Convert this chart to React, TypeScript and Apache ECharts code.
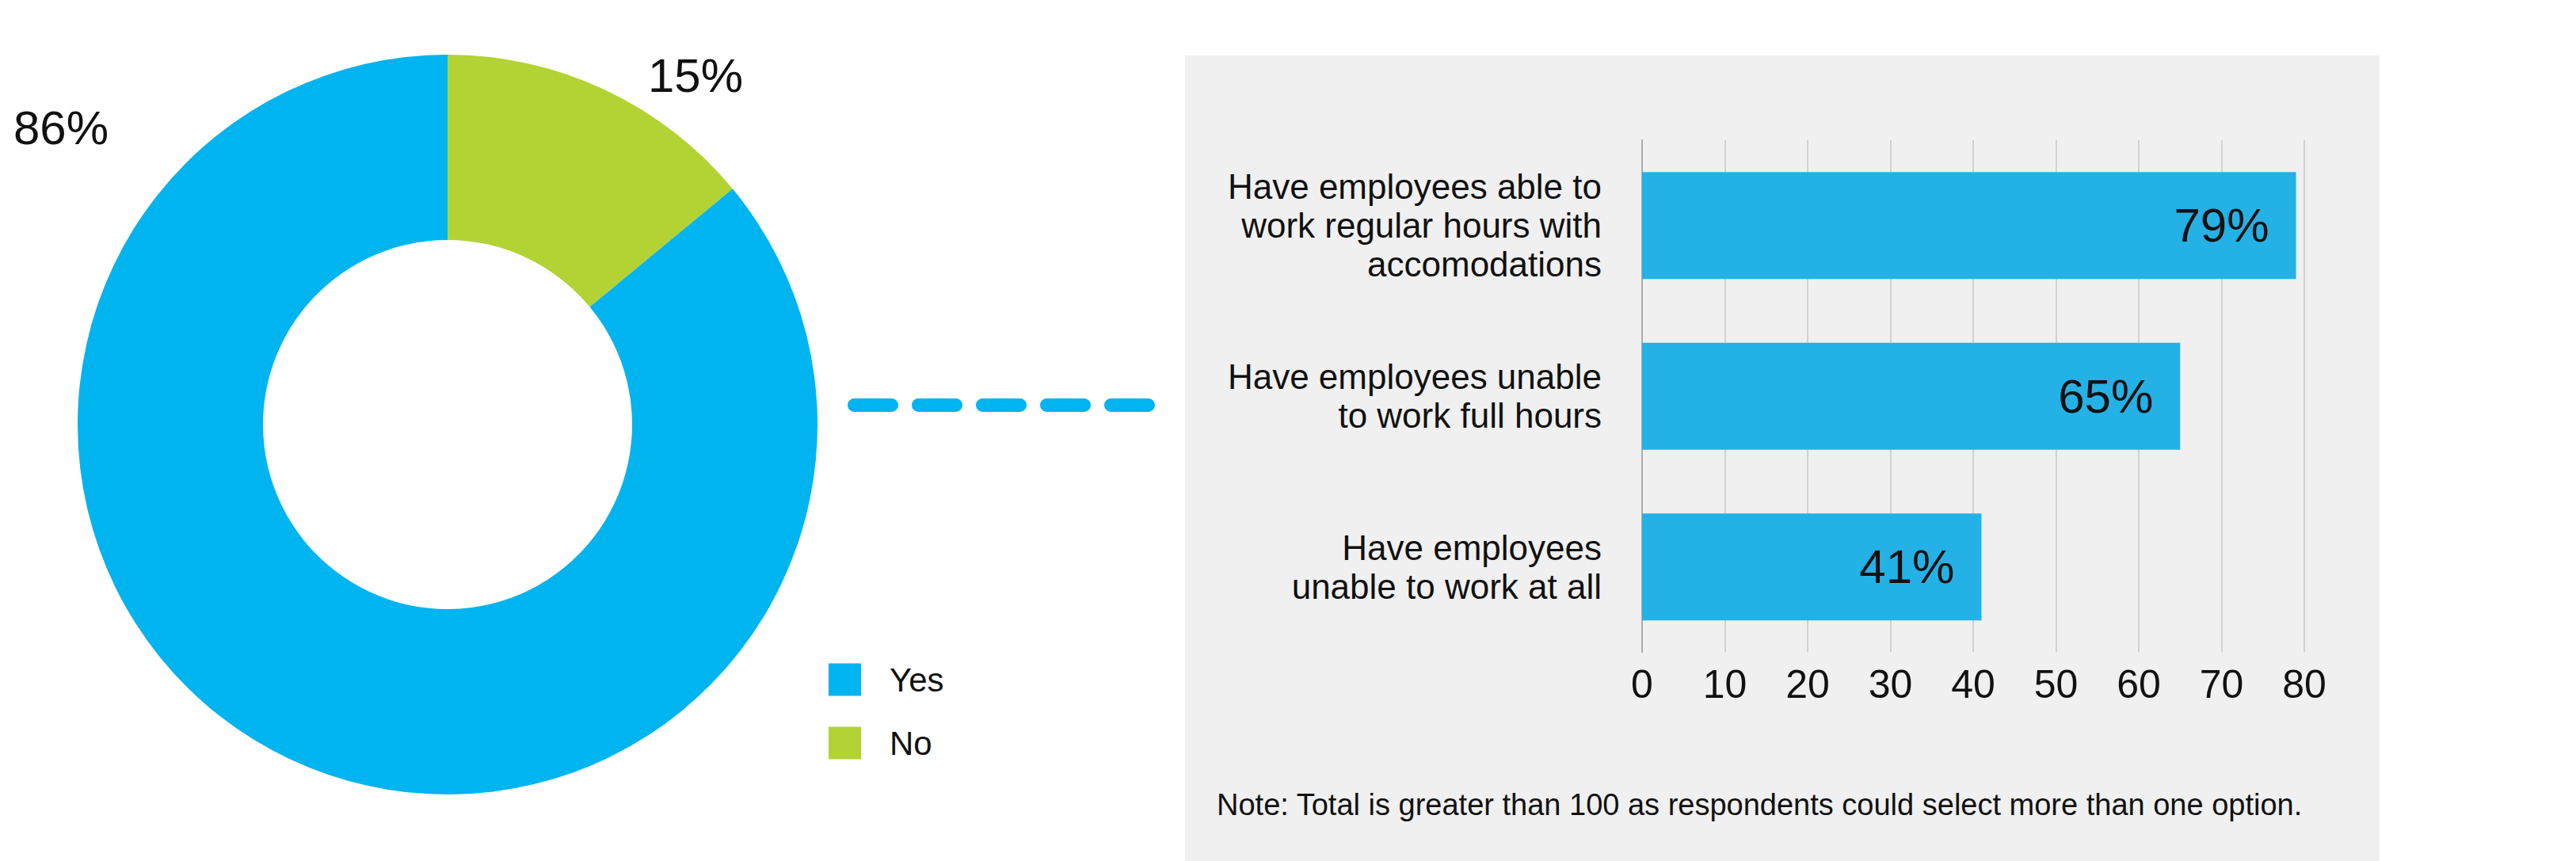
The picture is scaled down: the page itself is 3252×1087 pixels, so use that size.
import React, { useEffect, useRef } from "react";
import * as echarts from "echarts";

const pieNames = ["No", "Yes"];
const pieValues = [14, 86];
const pieLabels = ["15%", "86%"];
const legendOrder = ["Yes", "No"];

const barCategories = [
  "Have employees able to\nwork regular hours with\naccomodations",
  "Have employees unable\nto work full hours",
  "Have employees\nunable to work at all",
];
const barValues = [79, 65, 41];
const axisMin = 0;
const axisMax = 80;
const axisStep = 10;

const noteText = "Note: Total is greater than 100 as respondents could select more than one option.";

const FONT = "'Liberation Sans', Arial, Helvetica, sans-serif";
const PIE_BLUE = "#00b4f0";
const PIE_GREEN = "#b3d334";
const BAR_BLUE = "#24b1e6";

export default function App() {
  const ref = useRef<HTMLDivElement>(null);

  useEffect(() => {
    if (!ref.current) return;
    const chart = echarts.init(ref.current, undefined, { renderer: "svg" });
    const labelPos: Record<string, [number, number]> = {
      Yes: [77, 161],
      No: [878, 95],
    };
    chart.setOption({
      animation: false,
      backgroundColor: "#ffffff",
      textStyle: { fontFamily: FONT },
      graphic: [
        {
          type: "rect",
          z: -10,
          silent: true,
          shape: { x: 1496, y: 70, width: 1508, height: 1017 },
          style: { fill: "#f0f0f0" },
        },
        {
          type: "line",
          silent: true,
          shape: { x1: 1078.5, y1: 511.5, x2: 1449.5, y2: 511.5 },
          style: {
            stroke: PIE_BLUE,
            lineWidth: 17,
            lineCap: "round",
            lineDash: [47, 34],
          },
        },
        {
          type: "text",
          silent: true,
          x: 1536,
          y: 1016,
          style: {
            text: noteText,
            fontSize: 38,
            fontFamily: FONT,
            fill: "#111111",
            verticalAlign: "middle",
            align: "left",
          },
        },
      ],
      legend: {
        data: legendOrder,
        orient: "vertical",
        left: 1046,
        top: 837,
        padding: 0,
        itemWidth: 41,
        itemHeight: 41,
        itemGap: 38,
        icon: "rect",
        selectedMode: false,
        textStyle: {
          fontSize: 42,
          fontFamily: FONT,
          color: "#111111",
          padding: [0, 0, 0, 31],
        },
      },
      grid: {
        left: 2073,
        top: 177,
        width: 836,
        height: 646.5,
        containLabel: false,
      },
      xAxis: {
        type: "value",
        min: axisMin,
        max: axisMax,
        interval: axisStep,
        axisLine: { show: false },
        axisTick: { show: false },
        splitLine: { show: true, lineStyle: { color: "#d2d2d2", width: 2 } },
        axisLabel: {
          fontSize: 50,
          fontFamily: FONT,
          color: "#111111",
          margin: 15,
        },
      },
      yAxis: {
        type: "category",
        inverse: true,
        data: barCategories,
        axisLine: { show: true, lineStyle: { color: "#adadad", width: 2 } },
        axisTick: { show: false },
        axisLabel: {
          fontSize: 44,
          lineHeight: 49,
          fontFamily: FONT,
          color: "#111111",
          align: "right",
          margin: 51,
          padding: [12, 0, 0, 0],
        },
      },
      series: [
        {
          type: "pie",
          center: [565, 536],
          radius: [233, 467],
          startAngle: 90,
          clockwise: true,
          silent: true,
          color: [PIE_GREEN, PIE_BLUE],
          data: pieNames.map((n, i) => ({ name: n, value: pieValues[i] })),
          label: {
            show: true,
            position: "outside",
            fontSize: 60,
            fontFamily: FONT,
            color: "#111111",
            formatter: (p: any) => pieLabels[p.dataIndex],
          },
          labelLine: { show: false },
          labelLayout: (params: any) => {
            const name = pieNames[params.dataIndex];
            const pos = labelPos[name];
            return {
              x: pos[0],
              y: pos[1],
              align: "center",
              verticalAlign: "middle",
            };
          },
          itemStyle: { borderWidth: 0 },
        },
        {
          type: "bar",
          data: barValues,
          barWidth: 135,
          silent: true,
          itemStyle: { color: BAR_BLUE },
          label: {
            show: true,
            position: "insideRight",
            distance: 34,
            fontSize: 60,
            fontFamily: FONT,
            color: "#111111",
            formatter: "{c}%",
          },
        },
      ],
    });
    return () => chart.dispose();
  }, []);

  return (
    <div
      ref={ref}
      style={{ position: "fixed", left: 0, top: 0, width: 3252, height: 1087 }}
    />
  );
}
